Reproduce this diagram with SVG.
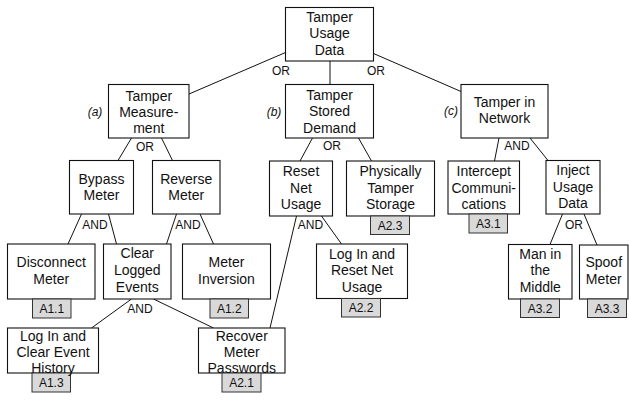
<svg xmlns="http://www.w3.org/2000/svg" width="629" height="405" viewBox="0 0 629 405">
<style>
.box{fill:#fff;stroke:#111;stroke-width:1.1}
.tag{fill:#d9d9d9;stroke:#333;stroke-width:1}
.t{font-family:"Liberation Sans",Arial,sans-serif;font-size:14px;fill:#111;text-anchor:middle}
.tt{font-family:"Liberation Sans",Arial,sans-serif;font-size:12px;fill:#111;text-anchor:middle}
.g{font-family:"Liberation Sans",Arial,sans-serif;font-size:12px;fill:#111;text-anchor:middle}
.lab{font-family:"Liberation Sans",Arial,sans-serif;font-size:12px;font-style:italic;fill:#111;text-anchor:middle}
.c line{stroke:#111;stroke-width:1}
</style>
<rect width="629" height="405" fill="#fff"/>
<g class="c" id="connectors">
<line x1="285.5" y1="52.5" x2="189" y2="94"/>
<line x1="330" y1="61" x2="330" y2="84.5"/>
<line x1="373.5" y1="53.5" x2="461" y2="91.5"/>
<line x1="131.5" y1="138" x2="118" y2="160.5"/>
<line x1="161.5" y1="138" x2="172.5" y2="160.5"/>
<line x1="312.5" y1="138" x2="300" y2="161"/>
<line x1="358.5" y1="138" x2="371.5" y2="161"/>
<line x1="499" y1="138" x2="494.5" y2="161"/>
<line x1="530" y1="138" x2="548" y2="160.5"/>
<line x1="81.5" y1="214" x2="68" y2="244"/>
<line x1="108.5" y1="214" x2="116.5" y2="244"/>
<line x1="176.5" y1="214" x2="166.5" y2="244"/>
<line x1="200" y1="214" x2="213.5" y2="244"/>
<line x1="296.5" y1="216" x2="270" y2="328"/>
<line x1="321.5" y1="216" x2="341.5" y2="244"/>
<line x1="131.5" y1="299" x2="91.5" y2="328"/>
<line x1="153.5" y1="299" x2="213.5" y2="328"/>
<line x1="562.5" y1="214" x2="550" y2="244.5"/>
<line x1="584" y1="214" x2="597" y2="245"/>
</g>
<g id="gates">
<text class="g" x="281" y="75">OR</text>
<text class="g" x="376" y="75">OR</text>
<text class="g" x="145" y="151">OR</text>
<text class="g" x="332" y="150">OR</text>
<text class="g" x="517" y="150">AND</text>
<text class="g" x="95" y="229">AND</text>
<text class="g" x="188" y="229">AND</text>
<text class="g" x="310.5" y="229">AND</text>
<text class="g" x="574" y="229">OR</text>
<text class="g" x="140" y="313">AND</text>
<text class="lab" x="95" y="116">(a)</text>
<text class="lab" x="274" y="116">(b)</text>
<text class="lab" x="451" y="115">(c)</text>
</g>
<g id="n-tud">
<rect class="box" x="285.5" y="7.5" width="88" height="53.5"/>
<text class="t" x="329.5" y="21.7">Tamper</text>
<text class="t" x="329.5" y="38">Usage</text>
<text class="t" x="329.5" y="54.5">Data</text>
</g>
<g id="n-tm">
<rect class="box" x="108.5" y="84.5" width="80.5" height="53.5"/>
<text class="t" x="148.75" y="100.5">Tamper</text>
<text class="t" x="148.75" y="117">Measure-</text>
<text class="t" x="148.75" y="133">ment</text>
</g>
<g id="n-tsd">
<rect class="box" x="285.5" y="84.5" width="88" height="53.5"/>
<text class="t" x="329.5" y="100">Tamper</text>
<text class="t" x="329.5" y="116.3">Stored</text>
<text class="t" x="329.5" y="132.5">Demand</text>
</g>
<g id="n-tin">
<rect class="box" x="461" y="84.5" width="87" height="53.5"/>
<text class="t" x="504.5" y="106.7">Tamper in</text>
<text class="t" x="504.5" y="123.3">Network</text>
</g>
<g id="n-bypass">
<rect class="box" x="69.5" y="160.5" width="64" height="53.5"/>
<text class="t" x="101.5" y="184.3">Bypass</text>
<text class="t" x="101.5" y="200.3">Meter</text>
</g>
<g id="n-reverse">
<rect class="box" x="152.5" y="160.5" width="67.5" height="53.5"/>
<text class="t" x="186.25" y="184.3">Reverse</text>
<text class="t" x="186.25" y="200.3">Meter</text>
</g>
<g id="n-reset">
<rect class="box" x="269.5" y="161" width="63" height="55"/>
<text class="t" x="301" y="175.8">Reset</text>
<text class="t" x="301" y="192.8">Net</text>
<text class="t" x="301" y="209">Usage</text>
</g>
<g id="n-phys">
<rect class="box" x="346.5" y="161" width="88" height="55"/>
<rect class="tag" x="370.5" y="216" width="39" height="18.5"/>
<text class="tt" x="390" y="229.5">A2.3</text>
<text class="t" x="390.5" y="176">Physically</text>
<text class="t" x="390.5" y="192.8">Tamper</text>
<text class="t" x="390.5" y="209">Storage</text>
</g>
<g id="n-intercept">
<rect class="box" x="448" y="161" width="71.5" height="53"/>
<rect class="tag" x="469" y="214" width="38.5" height="19"/>
<text class="tt" x="488.25" y="227.8">A3.1</text>
<text class="t" x="483.75" y="176">Intercept</text>
<text class="t" x="483.75" y="192.8">Communi-</text>
<text class="t" x="483.75" y="209">cations</text>
</g>
<g id="n-inject">
<rect class="box" x="546" y="160.5" width="54" height="53.5"/>
<text class="t" x="573" y="175">Inject</text>
<text class="t" x="573" y="191.7">Usage</text>
<text class="t" x="573" y="208.3">Data</text>
</g>
<g id="n-disconnect">
<rect class="box" x="7.5" y="244" width="87.5" height="55"/>
<rect class="tag" x="32.5" y="299" width="38.5" height="19"/>
<text class="tt" x="51.75" y="312.7">A1.1</text>
<text class="t" x="51.25" y="266.7">Disconnect</text>
<text class="t" x="51.25" y="284">Meter</text>
</g>
<g id="n-clear">
<rect class="box" x="103.5" y="244" width="67.5" height="55"/>
<text class="t" x="137.25" y="258">Clear</text>
<text class="t" x="137.25" y="275">Logged</text>
<text class="t" x="137.25" y="291.7">Events</text>
</g>
<g id="n-inversion">
<rect class="box" x="182.5" y="244" width="88" height="55"/>
<rect class="tag" x="210" y="299" width="38.5" height="19"/>
<text class="tt" x="229.25" y="312.7">A1.2</text>
<text class="t" x="226.5" y="267.3">Meter</text>
<text class="t" x="226.5" y="284">Inversion</text>
</g>
<g id="n-loginreset">
<rect class="box" x="316.5" y="244" width="91" height="54.5"/>
<rect class="tag" x="341.5" y="298.5" width="39" height="18.5"/>
<text class="tt" x="361" y="312">A2.2</text>
<text class="t" x="362" y="258.5">Log In and</text>
<text class="t" x="362" y="275.3">Reset Net</text>
<text class="t" x="362" y="291.5">Usage</text>
</g>
<g id="n-mitm">
<rect class="box" x="508.5" y="244.5" width="63.5" height="54.5"/>
<rect class="tag" x="520.5" y="299" width="39" height="18.5"/>
<text class="tt" x="540" y="312.5">A3.2</text>
<text class="t" x="540.25" y="258.5">Man in</text>
<text class="t" x="540.25" y="275">the</text>
<text class="t" x="540.25" y="292">Middle</text>
</g>
<g id="n-spoof">
<rect class="box" x="579.5" y="245" width="48.5" height="54"/>
<rect class="tag" x="587.5" y="299" width="39" height="18.5"/>
<text class="tt" x="607" y="312.5">A3.3</text>
<text class="t" x="603.75" y="266.7">Spoof</text>
<text class="t" x="603.75" y="284">Meter</text>
</g>
<g id="n-loginclear">
<rect class="box" x="7.5" y="328" width="91" height="45"/>
<rect class="tag" x="32" y="373" width="38.5" height="19"/>
<text class="tt" x="51.25" y="386.7">A1.3</text>
<text class="t" x="53" y="341">Log In and</text>
<text class="t" x="53" y="357.2">Clear Event</text>
<text class="t" x="53" y="372.8">History</text>
</g>
<g id="n-recover">
<rect class="box" x="198.5" y="328" width="86.5" height="45"/>
<rect class="tag" x="222" y="373" width="39" height="19"/>
<text class="tt" x="241.5" y="386.7">A2.1</text>
<text class="t" x="241.75" y="341">Recover</text>
<text class="t" x="241.75" y="357.2">Meter</text>
<text class="t" x="241.75" y="372.8">Passwords</text>
</g>
</svg>
